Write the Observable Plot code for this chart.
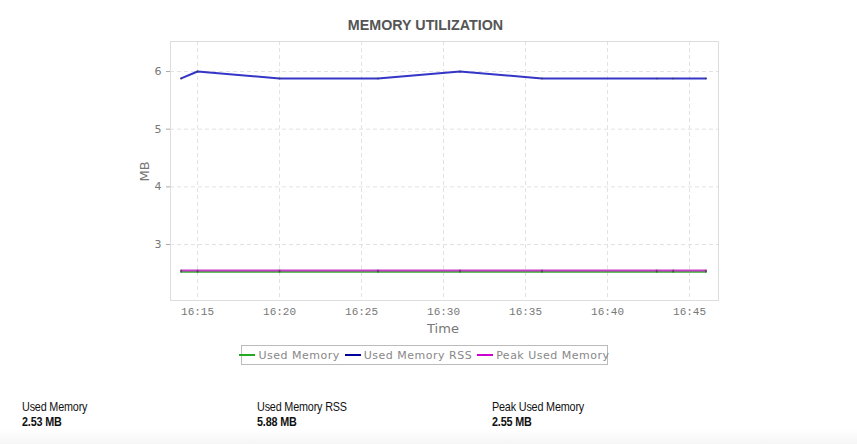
<!DOCTYPE html>
<html>
<head>
<meta charset="utf-8">
<script src="https://cdn.jsdelivr.net/npm/d3@7"></script>
<script src="https://cdn.jsdelivr.net/npm/@observablehq/plot@0.6"></script>
<style>
  html, body { margin: 0; padding: 0; background: #fff; width: 857px; height: 444px; overflow: hidden; position: relative; }
  #title { position: absolute; left: 0; width: 851px; top: 17px; text-align: center; font: bold 14.3px "Liberation Sans", Arial, sans-serif; color: #555; }
  #chart { position: absolute; left: 0; top: 0; }
  #ylabel { position: absolute; left: 134px; top: 164px; font: 13px "DejaVu Sans", sans-serif; color: #777; transform: rotate(-90deg); transform-origin: center; }
  #xlabel { position: absolute; left: 0; width: 886px; top: 321px; text-align: center; font: 13px "DejaVu Sans", sans-serif; color: #777; }
  #legend { position: absolute; left: 241px; top: 345px; width: 367px; height: 20px; border: 1px solid #bbb; font: 11px "DejaVu Sans", sans-serif; color: #888; letter-spacing: 0.5px; display: flex; align-items: center; justify-content: center; gap: 5px; box-sizing: border-box; white-space: nowrap; }
  .sw { display: inline-block; width: 16px; height: 2px; vertical-align: middle; margin-right: 3px; position: relative; top: -1px; }
  #summary { position: absolute; left: 0; top: 399px; width: 857px; }
  .col { position: absolute; top: 0; font-family: "Liberation Sans", Arial, sans-serif; font-size: 13px; color: #111; transform: scaleX(0.83); transform-origin: left top; white-space: nowrap; letter-spacing: -0.2px; }
  .col .v { font-weight: bold; margin-top: 0px; }
  #bottom { position: absolute; left: 0; top: 430px; width: 857px; height: 14px; background: linear-gradient(#fff, #f5f5f5); }
</style>
</head>
<body>
<div id="bottom"></div>
<div id="chart"></div>
<div id="title">MEMORY UTILIZATION</div>
<div id="ylabel">MB</div>
<div id="xlabel">Time</div>
<div id="legend"></div>
<div id="summary"></div>
<script>
// ---- data ----
const times = ["16:14", "16:15", "16:20", "16:26", "16:31", "16:36", "16:43", "16:44", "16:46"];
const usedMemory = [2.53, 2.53, 2.53, 2.53, 2.53, 2.53, 2.53, 2.53, 2.53];
const usedMemoryRSS = [5.88, 6.0, 5.88, 5.88, 6.0, 5.88, 5.88, 5.88, 5.88];
const peakUsedMemory = [2.55, 2.55, 2.55, 2.55, 2.55, 2.55, 2.55, 2.55, 2.55];
const seriesNames = ["Used Memory", "Used Memory RSS", "Peak Used Memory"];
const seriesColors = ["#2fae2f", "#3535c8", "#c83cc8"];
const legendColors = ["#22aa22", "#000099", "#cc00cc"];
const summaryValues = ["2.53 MB", "5.88 MB", "2.55 MB"];
const yTicks = [3, 4, 5, 6];

const parseT = s => { const [h, m] = s.split(":").map(Number); return new Date(2024, 0, 1, h, m, 0); };
const seriesValues = [usedMemory, usedMemoryRSS, peakUsedMemory];
const rows = [];
seriesNames.forEach((name, i) => {
  times.forEach((t, j) => rows.push({ series: name, time: parseT(t), value: seriesValues[i][j] }));
});
const drawOrder = ["Used Memory", "Peak Used Memory", "Used Memory RSS"];

const xDomain = [new Date(2024, 0, 1, 16, 13, 21), new Date(2024, 0, 1, 16, 46, 46)];
const xTicks = d3.timeMinute.every(5).range(xDomain[0], xDomain[1]);

const chart = Plot.plot({
  width: 857,
  height: 340,
  marginLeft: 170,
  marginRight: 139,
  marginTop: 41,
  marginBottom: 40,
  style: { fontFamily: "'Liberation Mono', 'DejaVu Sans Mono', monospace", fontSize: "11px", color: "#666", background: "transparent" },
  x: { type: "time", domain: xDomain },
  y: { domain: [2.03, 6.52] },
  color: { domain: seriesNames, range: seriesColors },
  marks: [
    Plot.gridX(xTicks, { stroke: "#e2e2e2", strokeOpacity: 1, strokeDasharray: "4,3" }),
    Plot.gridY(yTicks, { stroke: "#e2e2e2", strokeOpacity: 1, strokeDasharray: "4,3" }),
    Plot.frame({ stroke: "#ddd" }),
    Plot.axisX(xTicks, { tickFormat: d3.timeFormat("%H:%M"), tickSize: 0, tickPadding: 7, label: null, fill: "#777" }),
    Plot.axisY(yTicks, { tickFormat: d => String(d), tickSize: 4, tickPadding: 5, label: null, fill: "#777", fontFamily: "'DejaVu Sans', sans-serif", stroke: "#aaa" }),
    ...drawOrder.map(name => Plot.line(rows.filter(r => r.series === name), { x: "time", y: "value", stroke: "series", strokeWidth: 2, curve: "linear" })),
    Plot.dot(rows, { x: "time", y: "value", r: 1, fill: "#333", fillOpacity: 0.5 })
  ]
});
document.getElementById("chart").appendChild(chart);

const legend = document.getElementById("legend");
seriesNames.forEach((name, i) => {
  const span = document.createElement("span");
  span.innerHTML = `<span class="sw" style="background:${legendColors[i]}"></span>${name}`;
  legend.appendChild(span);
});

const summary = document.getElementById("summary");
const xs = [22, 257, 492];
seriesNames.forEach((name, i) => {
  const d = document.createElement("div");
  d.className = "col";
  d.style.left = xs[i] + "px";
  d.innerHTML = `<div>${name}</div><div class="v">${summaryValues[i]}</div>`;
  summary.appendChild(d);
});
</script>
</body>
</html>
